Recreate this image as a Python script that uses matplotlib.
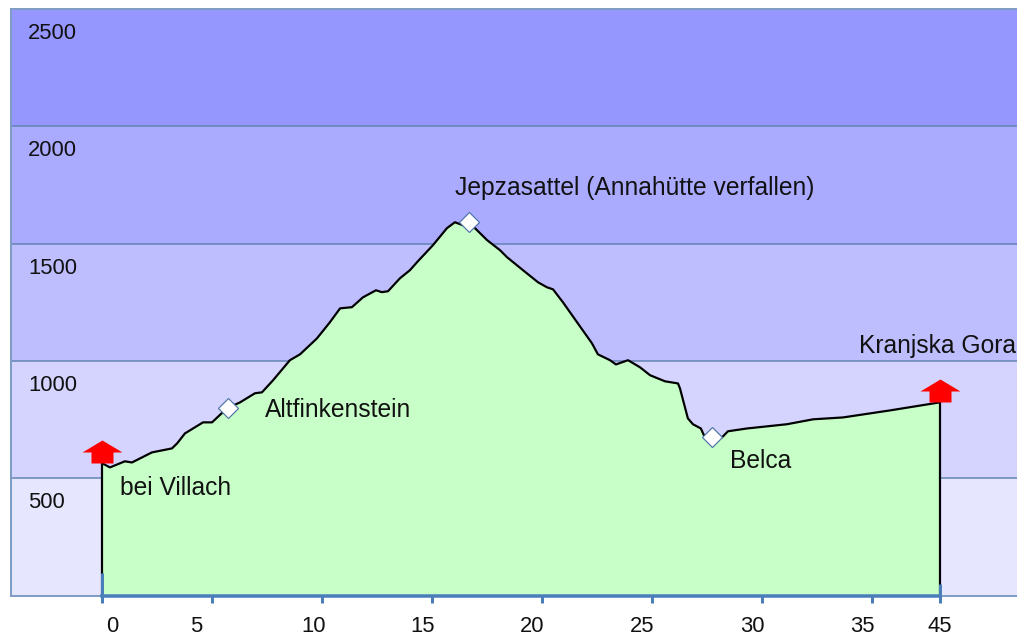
import matplotlib
matplotlib.use("Agg")
import matplotlib.pyplot as plt
from matplotlib.path import Path
from matplotlib.transforms import ScaledTranslation

plt.rcParams['font.family'] = ['Liberation Sans', 'DejaVu Sans']

# Profile data
km = [0, 0.34, 1.02, 1.34, 2.25, 3.16, 3.39, 3.75, 4.57, 4.98, 5.66, 6.25, 6.93, 7.25, 7.75,
      8.52, 8.98, 9.75, 10.34, 10.8, 11.34, 11.84, 12.43, 12.7, 12.98, 13.52, 13.98, 14.3,
      15.02, 15.66, 16.02, 16.39, 16.93, 17.48, 18.07, 18.39, 19.11, 19.8, 20.2, 20.48,
      20.93, 21.57, 22.25, 22.52, 23.07, 23.34, 23.89, 24.43, 24.89, 25.57, 26.16, 26.25,
      26.61, 26.84, 27.2, 27.34, 27.7, 28.16, 28.43, 29.3, 31.11, 32.3, 33.66, 35.8, 38.05]
elev = [563, 546, 572, 567, 610, 627, 648, 691, 738, 738, 798, 823, 862, 866, 917,
        1003, 1028, 1096, 1165, 1224, 1229, 1271, 1301, 1293, 1297, 1352, 1387, 1421,
        1493, 1566, 1591, 1578, 1566, 1515, 1472, 1442, 1387, 1335, 1314, 1305,
        1250, 1165, 1075, 1028, 1003, 985, 1003, 973, 939, 913, 904, 883,
        755, 730, 712, 683, 674, 674, 700, 712, 730, 751, 759, 789, 823]

way_km = [5.7, 16.66, 27.7]
way_elev = [798, 1591, 674]
way_names = ['Altfinkenstein', 'Jepzasattel (Annahütte verfallen)', 'Belca']

end_km = [0, 38.05]
end_elev = [563, 823]
end_names = ['bei Villach', 'Kranjska Gora']

band_edges = [0, 500, 1000, 1500, 2000, 2500]
band_colors = ['#E6E6FF', '#D4D4FF', '#BEBEFF', '#AAAAFF', '#9696FF']

xtick_pos = [0, 5, 10, 15, 20, 25, 30, 35, 38.05]
xtick_labels = ['0', '5', '10', '15', '20', '25', '30', '35', '45']
ytick_pos = [500, 1000, 1500, 2000, 2500]

W, H, DPI = 1017, 636, 100
fig = plt.figure(figsize=(W / DPI, H / DPI), dpi=DPI)
ax = fig.add_axes([10.5 / W, 1 - 595.5 / H, (W - 10.5) / W, (595.5 - 9) / H])
ax.set_xlim(-4.18, 41.57)
ax.set_ylim(0, 2500)

px = 72 / DPI
BLUE = '#4A7EBB'
EDGE = '#6283B3'

for lo, hi, c in zip(band_edges[:-1], band_edges[1:], band_colors):
    ax.axhspan(lo, hi, color=c, lw=0, zorder=0)
for e in ytick_pos[:-1]:
    ax.axhline(e, color=EDGE, lw=1.5 * px, zorder=1)

ax.fill_between(km, elev, 0, color='#C8FFC8', lw=0, zorder=2)
ax.plot(km, elev, color='black', lw=2.2 * px, zorder=3)
ax.vlines(end_km, 0, end_elev, color='black', lw=2.2 * px, zorder=3)

# Blue axis stubs rising above the baseline at both route ends
ax.vlines(end_km[0], 0, 98, color=BLUE, lw=3 * px, zorder=4)
ax.vlines(end_km[1], 0, 51, color=BLUE, lw=3 * px, zorder=4)

# Red arrows on the route ends
arrow = Path([(-11, 0), (-11, 11), (-20, 11), (0, 23), (20, 11), (11, 11), (11, 0), (-11, 0)], closed=True)
ax.plot(end_km, end_elev, ls='none', marker=arrow, ms=46 * px, mfc='#FF0000', mec='none', zorder=5, clip_on=False)

# Waypoints
ax.plot(way_km, way_elev, ls='none', marker='D', ms=14 * px, mfc='white', mec='#4F75A8', mew=1.2 * px, zorder=5)

txt = dict(fontsize=17.7, color='#111111', va='center', ha='left', zorder=6, annotation_clip=False)
offs_way = [(37, -2), (-14, 34), (18, -24)]
for x, y, n, (dx, dy) in zip(way_km, way_elev, way_names, offs_way):
    ax.annotate(n, (x, y), xytext=(dx * px, dy * px), textcoords='offset points', **txt)
offs_end = [(17.5, -25), (-80.5, 56)]
for x, y, n, (dx, dy) in zip(end_km, end_elev, end_names, offs_end):
    ax.annotate(n, (x, y), xytext=(dx * px, dy * px), textcoords='offset points', **txt)

# Spines
for s in ['right']:
    ax.spines[s].set_visible(False)
for s in ['left', 'top']:
    ax.spines[s].set_color('#7F9CC4')
    ax.spines[s].set_linewidth(2 * px)
ax.axhline(0, color='#7F9CC4', lw=2 * px, zorder=1, clip_on=False)
ax.spines['bottom'].set_color(BLUE)
ax.spines['bottom'].set_linewidth(3.5 * px)
ax.spines['bottom'].set_bounds(0, 38.05)
ax.spines['bottom'].set_zorder(4)

# X ticks, labels sit at uneven offsets in the original
ax.set_xticks(xtick_pos)
ax.set_xticklabels(xtick_labels, fontsize=15.8, color='#111111')
ax.tick_params(axis='x', length=7 * px, width=3 * px, color=BLUE, pad=13 * px)
xlab_dx = [10, -16, -9, -9.5, -10, -10, -10, -10, 0]
xlab_dy = [0, 0, 0, 0, 0, 0, 0, 0, -1]
for lab, dx, dy in zip(ax.get_xticklabels(), xlab_dx, xlab_dy):
    lab.set_transform(lab.get_transform() + ScaledTranslation(dx / DPI, dy / DPI, fig.dpi_scale_trans))

# Y ticks, labels sit inside the plot under each line
ax.set_yticks(ytick_pos)
ax.set_yticklabels([str(v) for v in ytick_pos], fontsize=15.8, color='#111111', ha='left')
ax.tick_params(axis='y', length=0, pad=-17.5 * px)
for lab in ax.get_yticklabels():
    lab.set_transform(lab.get_transform() + ScaledTranslation(0, -22 / DPI, fig.dpi_scale_trans))
    lab.set_horizontalalignment('left')

fig.savefig('out.png', dpi=DPI)
